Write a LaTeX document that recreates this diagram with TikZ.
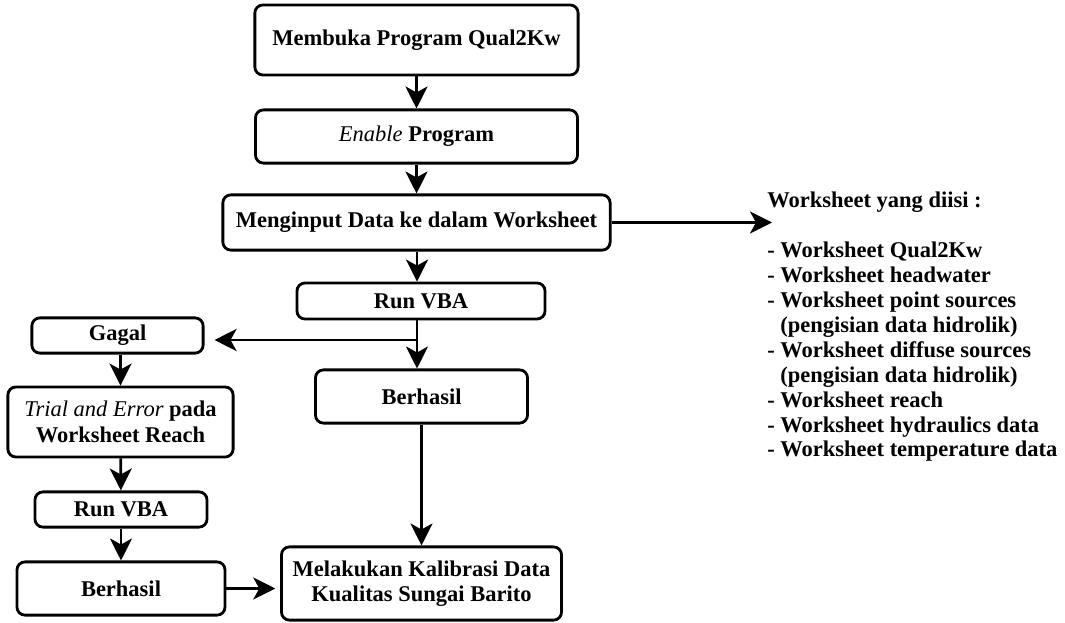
\documentclass[tikz,border=0pt]{standalone}
\usepackage{fontspec}
\setmainfont{Liberation Serif}
\usepackage{tikz}
\usetikzlibrary{arrows.meta}
\tikzstyle{box} = [draw,rounded corners=2mm,line width=2pt,align=center,inner sep=1pt,font=\fontsize{16}{18}\selectfont\bfseries]
\tikzstyle{arrow} = [-{Stealth[length=5.5mm,width=5.5mm,inset=1.5mm]},line width=2pt]

\begin{document}
\begin{tikzpicture}[x=0.025cm,y=-0.025cm]
      \useasboundingbox(0,0)rectangle(1065,623);
      % main column
      \node[box,minimum width=8.08cm,minimum height=1.75cm](buka)at(416.5,40){Membuka Program Qual2Kw};
      \node[box,minimum width=8.05cm,minimum height=1.33cm](enable)at(416.5,136.5){{\mdseries\itshape Enable} Program};
      \node[box,minimum width=9.68cm,minimum height=1.38cm](input)at(416.5,222.5){Menginput Data ke dalam Worksheet};
      \node[box,minimum width=6.2cm,minimum height=0.9cm](run1)at(421,301){Run VBA};
      \node[box,minimum width=5.3cm,minimum height=1.33cm](berhasil1)at(421.5,396.5){Berhasil};
      \node[box,minimum width=7cm,minimum height=1.83cm](kalibrasi)at(421.5,583.5){Melakukan Kalibrasi Data\\Kualitas Sungai Barito};
      % left column
      \node[box,minimum width=4.28cm,minimum height=0.88cm](gagal)at(117.5,335.5){Gagal};
      \node[box,minimum width=5.63cm,minimum height=1.75cm](trial)at(120.5,422){{\mdseries\itshape Trial and Error} pada\\Worksheet Reach};
      \node[box,minimum width=4.3cm,minimum height=0.88cm](run2)at(121,509.5){Run VBA};
      \node[box,minimum width=5.2cm,minimum height=1.33cm](berhasil2)at(121,588.5){Berhasil};
      % worksheet list
      \node[anchor=north west,align=left,inner sep=0pt,font=\fontsize{16}{17.7}\selectfont\bfseries](daftar)at(767,192){Worksheet yang diisi :\\[0.625cm]
        - Worksheet Qual2Kw\\
        - Worksheet headwater\\
        - Worksheet point sources\\
        \hphantom{-}\ (pengisian data hidrolik)\\
        - Worksheet diffuse sources\\
        \hphantom{-}\ (pengisian data hidrolik)\\
        - Worksheet reach\\
        - Worksheet hydraulics data\\
        - Worksheet temperature data};
      \coordinate(listin)at(772,222.5);
      \coordinate(cabang)at(417,340);
      % connectors
      \draw[arrow](buka)--(enable);
      \draw[arrow](enable)--(input);
      \draw[arrow](input.south-|cabang)--(run1.north-|cabang);
      \draw[arrow](run1.south-|cabang)--(berhasil1.north-|cabang);
      \draw[arrow,shorten >=2.5mm](cabang)--(cabang-|gagal.east);
      \draw[arrow](berhasil1)--(kalibrasi);
      \draw[arrow](input.east)--(listin);
      \draw[arrow](gagal.south-|trial)--(trial);
      \draw[arrow](trial)--(run2);
      \draw[arrow](run2)--(berhasil2);
      \draw[arrow,shorten >=1.2mm](berhasil2.east)--(berhasil2.east-|kalibrasi.west);
    \end{tikzpicture}
\end{document}
